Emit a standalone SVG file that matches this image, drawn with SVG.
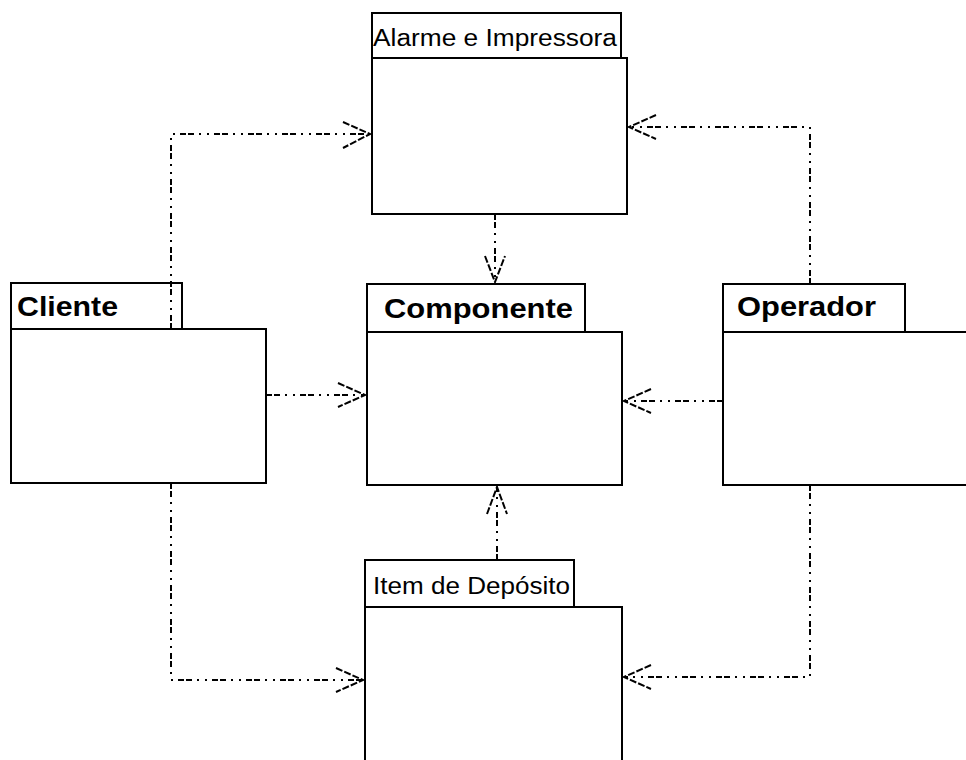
<svg xmlns="http://www.w3.org/2000/svg" width="966" height="760" viewBox="0 0 966 760">
  <style>
    .box { fill: #ffffff; stroke: #000000; stroke-width: 2; }
    .small { font-family: "Liberation Sans", "DejaVu Sans", sans-serif; font-size: 23px; fill: #000000; }
    .big { font-family: "Liberation Sans", "DejaVu Sans", sans-serif; font-size: 28px; font-weight: bold; fill: #000000; }
    .dep { fill: none; stroke: #000000; stroke-width: 2; stroke-dasharray: 6 2 6 5 2 6 2 5; }
    .head { fill: none; stroke: #000000; stroke-width: 2; stroke-dasharray: 7 2; }
  </style>
  <rect width="966" height="760" fill="#ffffff"/>

  <!-- packages -->
  <g id="alarme">
    <rect class="box" x="372" y="13" width="249" height="45"/>
    <rect class="box" x="372" y="58" width="255" height="156"/>
    <text class="small" x="373" y="46" textLength="244" lengthAdjust="spacingAndGlyphs">Alarme e Impressora</text>
  </g>
  <g id="cliente">
    <rect class="box" x="11" y="283" width="171" height="46"/>
    <rect class="box" x="11" y="329" width="255" height="154"/>
    <text class="big" x="17" y="316" textLength="101" lengthAdjust="spacingAndGlyphs">Cliente</text>
  </g>
  <g id="componente">
    <rect class="box" x="367" y="284" width="218" height="48"/>
    <rect class="box" x="367" y="332" width="255" height="153"/>
    <text class="big" x="384" y="318" textLength="189" lengthAdjust="spacingAndGlyphs">Componente</text>
  </g>
  <g id="operador">
    <rect class="box" x="723" y="284" width="182" height="48"/>
    <rect class="box" x="723" y="332" width="255" height="153"/>
    <text class="big" x="737" y="316" textLength="139" lengthAdjust="spacingAndGlyphs">Operador</text>
  </g>
  <g id="item">
    <rect class="box" x="365" y="560" width="209" height="47"/>
    <rect class="box" x="365" y="607" width="257" height="170"/>
    <text class="small" x="373" y="594" textLength="197" lengthAdjust="spacingAndGlyphs">Item de Depósito</text>
  </g>

  <!-- dependencies -->
  <g id="connectors">
    <!-- Cliente to Alarme e Impressora -->
    <polyline class="dep" points="171,329 171,134 370,134"/>
    <polyline class="head" points="343,122 370,134 343,148"/>
    <!-- Alarme e Impressora to Componente -->
    <polyline class="dep" points="495,214 495,282"/>
    <polyline class="head" points="485,256 495,282 505,256"/>
    <!-- Cliente to Componente -->
    <polyline class="dep" points="266,395 365,395"/>
    <polyline class="head" points="338,383 365,395 338,407"/>
    <!-- Operador to Componente -->
    <polyline class="dep" points="723,401 624,401"/>
    <polyline class="head" points="651,389 624,401 651,413"/>
    <!-- Operador to Alarme e Impressora -->
    <polyline class="dep" points="810,284 810,127 629,127"/>
    <polyline class="head" points="656,115 629,127 656,139"/>
    <!-- Item de Depósito to Componente -->
    <polyline class="dep" points="497,560 497,487"/>
    <polyline class="head" points="487,514 497,487 507,514"/>
    <!-- Cliente to Item de Depósito -->
    <polyline class="dep" points="171,483 171,680 363,680"/>
    <polyline class="head" points="336,668 363,680 336,692"/>
    <!-- Operador to Item de Depósito -->
    <polyline class="dep" points="810,485 810,677 624,677"/>
    <polyline class="head" points="651,665 624,677 651,689"/>
  </g>
</svg>
